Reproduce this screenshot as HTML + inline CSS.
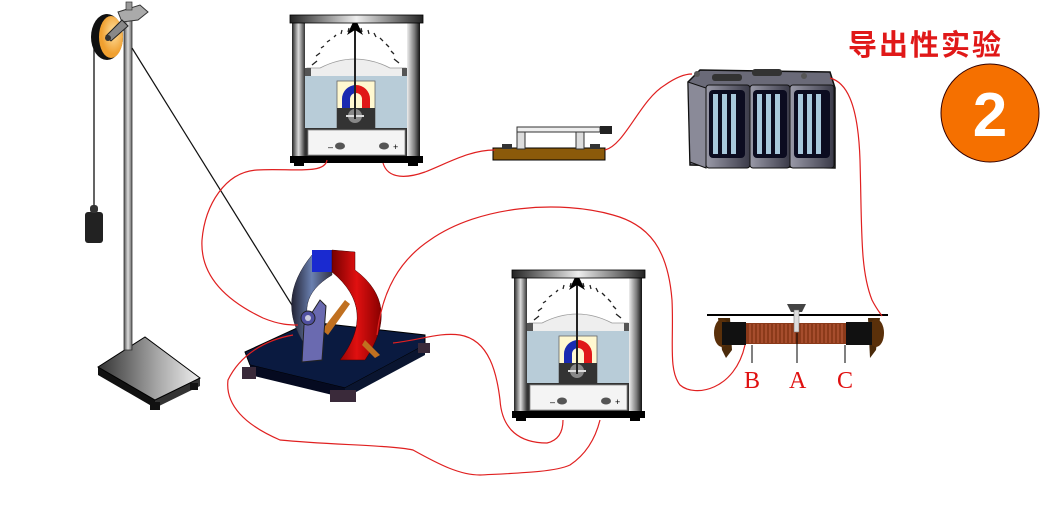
<!DOCTYPE html>
<html><head><meta charset="utf-8"><style>
html,body{margin:0;padding:0;background:#fff;}
svg{display:block}
</style></head><body>
<svg width="1060" height="510" viewBox="0 0 1060 510" xmlns="http://www.w3.org/2000/svg">
<defs>
<linearGradient id="post" x1="0" x2="1"><stop offset="0" stop-color="#222"/><stop offset="0.5" stop-color="#ddd"/><stop offset="1" stop-color="#333"/></linearGradient>
<linearGradient id="postR" x1="0" x2="1"><stop offset="0" stop-color="#eee"/><stop offset="0.6" stop-color="#777"/><stop offset="1" stop-color="#111"/></linearGradient>
<linearGradient id="bar" x1="0" x2="1"><stop offset="0" stop-color="#222"/><stop offset="0.5" stop-color="#eee"/><stop offset="1" stop-color="#222"/></linearGradient>
<linearGradient id="rod" x1="0" x2="1"><stop offset="0" stop-color="#555"/><stop offset="0.5" stop-color="#ddd"/><stop offset="1" stop-color="#666"/></linearGradient>
<linearGradient id="sbase" x1="0" x2="1"><stop offset="0" stop-color="#333"/><stop offset="0.6" stop-color="#aaa"/><stop offset="1" stop-color="#eee"/></linearGradient>
<linearGradient id="cell" x1="0" x2="1"><stop offset="0" stop-color="#9a9aa8"/><stop offset="0.5" stop-color="#6a6a78"/><stop offset="1" stop-color="#3a3a48"/></linearGradient>
<radialGradient id="pul" cx="0.6" cy="0.4"><stop offset="0" stop-color="#ffe0a0"/><stop offset="1" stop-color="#f0a030"/></radialGradient>
<linearGradient id="redm" x1="0" x2="1"><stop offset="0" stop-color="#700"/><stop offset="0.5" stop-color="#e01010"/><stop offset="1" stop-color="#800"/></linearGradient>
<linearGradient id="bluem" x1="0" x2="1"><stop offset="0" stop-color="#223"/><stop offset="0.5" stop-color="#6a80b0"/><stop offset="1" stop-color="#334"/></linearGradient>
<g id="meter">
  <rect x="15" y="8" width="103" height="105" fill="#fff"/>
  <g stroke="#222" stroke-width="1.3">
    <line x1="22" y1="50" x2="27" y2="46"/><line x1="26" y1="41" x2="30" y2="38"/><line x1="31" y1="33" x2="34" y2="31"/><line x1="37" y1="27" x2="40" y2="25"/><line x1="44" y1="22" x2="46" y2="20"/><line x1="51" y1="19" x2="52" y2="15"/><line x1="58" y1="17" x2="59" y2="13"/>
    <line x1="72" y1="17" x2="71" y2="13"/><line x1="79" y1="19" x2="78" y2="15"/><line x1="86" y1="22" x2="84" y2="18"/><line x1="93" y1="26" x2="90" y2="23"/><line x1="99" y1="32" x2="96" y2="29"/><line x1="104" y1="39" x2="101" y2="36"/><line x1="109" y1="48" x2="104" y2="44"/>
  </g>
  <path d="M17 53 L30 53 Q65 35 100 53 L116 53 L116 62 L17 62Z" fill="#eee" stroke="#999" stroke-width="0.8"/>
  <rect x="15" y="53" width="6" height="8" fill="#555"/><rect x="112" y="53" width="6" height="8" fill="#555"/>
  <rect x="15" y="61" width="103" height="52" fill="#b8ccd8"/>
  <rect x="47" y="66" width="38" height="47" fill="#fff8d0" stroke="#666" stroke-width="0.8"/>
  <path d="M52 93 L52 84 A14 14 0 0 1 66 70 L66 78 A6 6 0 0 0 60 84 L60 93Z" fill="#1a2ab0"/>
  <path d="M80 93 L80 84 A14 14 0 0 0 66 70 L66 78 A6 6 0 0 1 72 84 L72 93Z" fill="#e01818"/>
  <rect x="47" y="93" width="38" height="20" fill="#333"/>
  <circle cx="65" cy="101" r="7" fill="#888"/><line x1="56" y1="101" x2="74" y2="101" stroke="#ddd" stroke-width="2"/>
  <line x1="65" y1="104" x2="65" y2="15" stroke="#222" stroke-width="2"/>
  <path d="M57 20 L65 3 L73 20 L65 15Z" fill="#000"/>
  <path d="M15 113 L118 113 L118 141 L15 141Z" fill="#333"/>
  <rect x="18" y="115" width="97" height="25" fill="#f4f4f4" stroke="#888" stroke-width="0.8"/>
  <ellipse cx="50" cy="131" rx="5" ry="3.5" fill="#555"/><ellipse cx="94" cy="131" rx="5" ry="3.5" fill="#555"/>
  <text x="38" y="135" font-size="9" font-family="Liberation Sans" fill="#000">–</text><text x="103" y="135" font-size="9" font-family="Liberation Sans" fill="#000">+</text>
  <rect x="2" y="6" width="13" height="137" fill="url(#post)"/>
  <rect x="117" y="6" width="13" height="137" fill="url(#postR)"/>
  <rect x="0" y="0" width="133" height="8" fill="url(#bar)" stroke="#000" stroke-width="0.8"/>
  <rect x="0" y="141" width="133" height="7" fill="#000"/>
  <rect x="4" y="146" width="10" height="5" fill="#000"/><rect x="118" y="146" width="10" height="5" fill="#000"/>
</g>
</defs>

<!-- stand -->
<path d="M98 367 L155 400 L155 408 L98 375Z" fill="#111"/>
<path d="M155 400 L200 378 L200 386 L155 408Z" fill="#333"/>
<rect x="100" y="370" width="8" height="6" fill="#111"/><rect x="150" y="402" width="10" height="8" fill="#111"/><rect x="190" y="383" width="8" height="7" fill="#111"/>
<path d="M98 367 L145 337 L200 378 L155 400Z" fill="url(#sbase)" stroke="#000"/>
<rect x="124" y="15" width="8" height="335" fill="url(#rod)" stroke="#333" stroke-width="0.8"/>
<path d="M118 12 L140 5 L148 12 L138 20 L122 22Z" fill="#aaa" stroke="#333"/>
<rect x="126" y="2" width="6" height="8" fill="#999" stroke="#333" stroke-width="0.7"/>
<ellipse cx="107" cy="37" rx="16" ry="23" fill="#111"/>
<ellipse cx="111" cy="37" rx="12" ry="21" fill="url(#pul)"/>
<path d="M106 36 L122 20 L128 26 L111 41Z" fill="#888" stroke="#222"/>
<circle cx="108" cy="38" r="3" fill="#333"/>
<line x1="94" y1="40" x2="94" y2="205" stroke="#111" stroke-width="1.3"/>
<rect x="85" y="212" width="18" height="31" rx="3" fill="#222"/>
<rect x="90" y="205" width="8" height="8" rx="3" fill="#333"/>
<line x1="132" y1="48" x2="300" y2="318" stroke="#111" stroke-width="1.2"/>

<!-- meters -->
<use href="#meter" x="290" y="15"/>
<use href="#meter" x="512" y="270"/>

<!-- switch -->
<rect x="493" y="148" width="112" height="12" fill="#8b5a0a" stroke="#000"/>
<rect x="502" y="144" width="10" height="5" fill="#333"/><rect x="590" y="144" width="10" height="5" fill="#333"/>
<rect x="517" y="127" width="8" height="22" fill="#ddd" stroke="#333"/>
<rect x="576" y="127" width="8" height="22" fill="#ddd" stroke="#333"/>
<rect x="517" y="127" width="83" height="5" fill="#eee" stroke="#333"/>
<rect x="600" y="126" width="12" height="8" fill="#222"/>

<!-- battery -->
<path d="M688 82 L700 70 L830 72 L835 88 L835 168 L690 165Z" fill="#6a6a78" stroke="#111" stroke-width="1.5"/>
<path d="M688 82 L706 88 L706 168 L690 162Z" fill="#8a8a98" stroke="#111"/>
<rect x="706" y="85" width="44" height="83" rx="3" fill="url(#cell)" stroke="#111"/>
<rect x="750" y="85" width="40" height="83" rx="3" fill="url(#cell)" stroke="#111"/>
<rect x="790" y="85" width="44" height="83" rx="3" fill="url(#cell)" stroke="#111"/>
<g fill="#0c0c20"><rect x="709" y="90" width="36" height="68" rx="4"/><rect x="753" y="90" width="34" height="68" rx="4"/><rect x="794" y="90" width="36" height="68" rx="4"/></g>
<g fill="#a8c8dc"><rect x="713" y="94" width="5" height="60"/><rect x="722" y="94" width="5" height="60"/><rect x="731" y="94" width="5" height="60"/>
<rect x="757" y="94" width="5" height="60"/><rect x="766" y="94" width="5" height="60"/><rect x="775" y="94" width="5" height="60"/>
<rect x="798" y="94" width="5" height="60"/><rect x="807" y="94" width="5" height="60"/><rect x="816" y="94" width="5" height="60"/></g>
<rect x="712" y="74" width="30" height="7" rx="3" fill="#333"/><rect x="752" y="69" width="30" height="7" rx="3" fill="#333"/>
<circle cx="697" cy="74" r="3" fill="#555"/><circle cx="804" cy="76" r="3" fill="#555"/>

<!-- rheostat -->
<line x1="707" y1="315" x2="888" y2="315" stroke="#000" stroke-width="2"/>
<path d="M718 318 L730 318 L732 350 L726 358 L722 350Z" fill="#4a2a0a"/>
<path d="M868 318 L880 318 L876 350 L870 358Z" fill="#4a2a0a"/>
<ellipse cx="722" cy="333" rx="8" ry="14" fill="#5a300a"/><ellipse cx="876" cy="333" rx="8" ry="14" fill="#5a300a"/>
<rect x="722" y="322" width="24" height="23" fill="#111"/><rect x="846" y="322" width="26" height="23" fill="#111"/>
<rect x="746" y="323" width="100" height="21" fill="#8b3a1a"/>
<g stroke="#c06040" stroke-width="1">
<path d="M750 324v19M754 324v19M758 324v19M762 324v19M766 324v19M770 324v19M774 324v19M778 324v19M782 324v19M786 324v19M790 324v19M794 324v19M802 324v19M806 324v19M810 324v19M814 324v19M818 324v19M822 324v19M826 324v19M830 324v19M834 324v19M838 324v19M842 324v19"/></g>
<path d="M787 304 L806 304 L802 312 L791 312Z" fill="#444"/>
<rect x="794" y="310" width="5" height="22" fill="#ddd" stroke="#666" stroke-width="0.5"/>
<g stroke="#000" stroke-width="1"><line x1="752" y1="345" x2="752" y2="363"/><line x1="797" y1="333" x2="797" y2="363"/><line x1="845" y1="345" x2="845" y2="363"/></g>
<g fill="#e01010" font-family="Liberation Serif, serif" font-size="24"><text x="744" y="388">B</text><text x="789" y="388">A</text><text x="837" y="388">C</text></g>

<!-- motor -->
<path d="M245 352 L310 322 L425 335 L425 345 L345 388 L250 365Z" fill="#0a1a40" stroke="#000"/>
<path d="M250 365 L345 388 L345 398 L250 375Z" fill="#050a20"/>
<path d="M345 388 L425 345 L425 355 L345 398Z" fill="#0a1530"/>
<rect x="242" y="367" width="14" height="12" fill="#3a2a3a"/><rect x="330" y="390" width="26" height="12" fill="#3a2a3a"/><rect x="418" y="343" width="12" height="10" fill="#3a2a3a"/>
<path d="M312 255 L332 255 L332 275 Q290 300 318 340 L305 345 Q275 300 312 255Z" fill="url(#bluem)" stroke="#223" stroke-width="0.5"/>
<path d="M312 250 L332 250 L332 272 L312 272Z" fill="#1a2ad0"/>
<path d="M332 250 L355 252 L355 270 Q402 305 365 360 L340 360 Q378 310 332 272Z" fill="url(#redm)" stroke="#400" stroke-width="0.5"/>
<path d="M322 330 L345 300 L350 304 L328 335Z" fill="#c07020"/>
<path d="M365 340 L380 355 L375 358 L362 345Z" fill="#c07020"/>
<path d="M302 362 L304 325 L320 300 L326 306 L322 360Z" fill="#6a6ab0" stroke="#222"/>
<circle cx="308" cy="318" r="7" fill="#5050a0" stroke="#222"/><circle cx="308" cy="318" r="3" fill="#ccd"/>

<!-- wires -->
<g fill="none" stroke="#e02020" stroke-width="1.2">
<path d="M327 160 C325 175 290 168 257 170 C225 172 205 205 202 240 C200 275 225 300 263 318 C280 325 290 325 298 325"/>
<path d="M383 163 C388 180 408 178 425 172 C450 162 470 150 495 150"/>
<path d="M605 150 C625 145 640 100 665 85 C675 78 685 74 692 74"/>
<path d="M830 78 C845 82 858 100 860 160 C862 230 860 270 872 300 C876 308 880 313 882 316"/>
<path d="M377 335 C382 290 400 260 430 240 C480 205 560 200 613 215 C650 225 668 250 672 300 C674 340 668 370 680 385 C695 398 735 390 745 345"/>
<path d="M293 335 C265 340 240 355 228 380 C225 405 245 425 280 440 C330 445 390 445 413 450 C440 465 460 475 480 475 C520 473 555 472 570 465 C585 455 595 440 600 420"/>
<path d="M393 343 C420 340 440 332 460 335 C490 340 497 375 500 400 C502 430 520 443 547 443 C560 440 563 430 563 420"/>
</g>

<!-- title & badge -->
<text x="848" y="55" font-family="Liberation Sans, 'Noto Sans CJK SC', sans-serif" font-size="29" font-weight="bold" fill="#e01818" letter-spacing="2">导出性实验</text>
<circle cx="990" cy="113" r="49" fill="#f57000" stroke="#300" stroke-width="1"/>
<text x="990" y="136" text-anchor="middle" font-family="Liberation Sans, sans-serif" font-size="62" font-weight="bold" fill="#fff">2</text>
</svg>
</body></html>
